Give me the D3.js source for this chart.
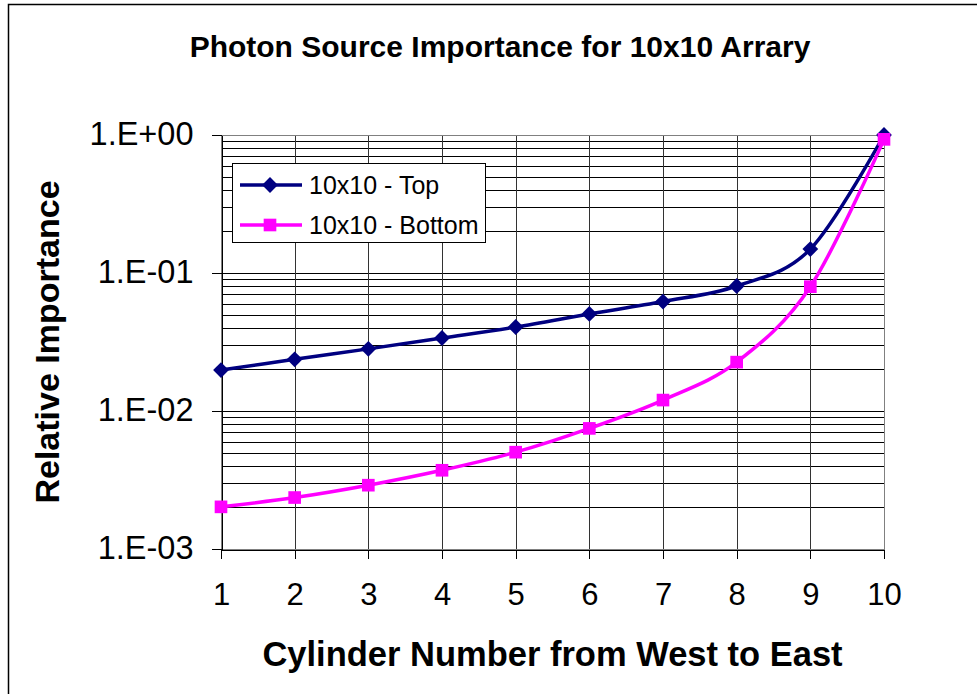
<!DOCTYPE html>
<html lang="en">
<head>
    <meta charset="UTF-8">
    <script src="https://cdn.jsdelivr.net/npm/d3@7"></script>
    <title>Photon Source Importance</title>
    <style>
        body { margin: 0; background: #fff; }
        text { font-family: Arial, "Liberation Sans", sans-serif; }
    </style>
</head>
<body>
    <div class="fig"></div>

    <script>
        /*------------------- Data --------------------*/
        const cylinders = [1, 2, 3, 4, 5, 6, 7, 8, 9, 10];
        const topValues = [0.0198, 0.0237, 0.0282, 0.0338, 0.0406, 0.0505, 0.0621, 0.0805, 0.149, 1.0];
        const bottomValues = [0.00202, 0.00236, 0.0029, 0.00372, 0.00503, 0.00748, 0.0120, 0.0226, 0.0796, 0.93];
        const seriesNames = ["10x10 - Top", "10x10 - Bottom"];
        const yTickValues = [1, 0.1, 0.01, 0.001];
        const yTickLabels = ["1.E+00", "1.E-01", "1.E-02", "1.E-03"];

        /*------------------- Window setting --------------------*/
        const width = 977;
        const height = 694;
        const plot = { left: 221, right: 884, top: 135, bottom: 549 };

        const svg = d3.select(".fig").append("svg")
            .attr("width", width)
            .attr("height", height);

        // outer chart frame (only top & left visible in the picture)
        svg.append("rect")
            .attr("x", 8.5).attr("y", 4.5)
            .attr("width", 1000).attr("height", 1000)
            .attr("fill", "none")
            .attr("stroke", "#000")
            .attr("stroke-width", 1.5);

        // scales
        const xScale = d3.scaleLinear().domain([1, 10]).range([plot.left, plot.right]);
        const yScale = d3.scaleLog().domain([0.001, 1]).range([plot.bottom, plot.top]);

        // gridlines: log minor + major horizontals, one vertical per cylinder
        const grid = svg.append("g").attr("shape-rendering", "crispEdges");
        grid.selectAll(".hgrid")
            .data(yScale.ticks())
            .enter()
            .append("line")
            .attr("x1", plot.left).attr("x2", plot.right)
            .attr("y1", d => Math.round(yScale(d)) + 0.5)
            .attr("y2", d => Math.round(yScale(d)) + 0.5)
            .attr("stroke", "#000");
        grid.selectAll(".vgrid")
            .data(cylinders.slice(1))
            .enter()
            .append("line")
            .attr("x1", d => Math.round(xScale(d)) + 0.5)
            .attr("x2", d => Math.round(xScale(d)) + 0.5)
            .attr("y1", plot.top).attr("y2", plot.bottom)
            .attr("stroke", "#333");
        // plot area border
        grid.append("rect")
            .attr("x", plot.left + 0.5).attr("y", plot.top + 0.5)
            .attr("width", plot.right - plot.left).attr("height", plot.bottom - plot.top)
            .attr("fill", "none")
            .attr("stroke", "#808080");

        // axes
        const yAxis = d3.axisLeft(yScale)
            .tickValues(yTickValues)
            .tickFormat((d, i) => yTickLabels[i])
            .tickSizeInner(10)
            .tickSizeOuter(0)
            .tickPadding(18);
        const yAxisG = svg.append("g")
            .attr("transform", `translate(${plot.left + 0.5},0)`)
            .call(yAxis);
        yAxisG.selectAll("text")
            .attr("font-size", "32.5px")
            .attr("fill", "#000")
            .attr("dy", "0.28em");

        const xAxis = d3.axisBottom(xScale)
            .tickValues(cylinders)
            .tickFormat(d3.format("d"))
            .tickSizeInner(9)
            .tickSizeOuter(0)
            .tickPadding(24);
        const xAxisG = svg.append("g")
            .attr("transform", `translate(0,${plot.bottom + 0.5})`)
            .call(xAxis);
        xAxisG.selectAll("text")
            .attr("font-size", "31px")
            .attr("fill", "#000");

        [yAxisG, xAxisG].forEach(g => {
            g.attr("font-family", null);
            g.selectAll("line, path").attr("stroke", "#000").attr("shape-rendering", "crispEdges");
        });

        // smoothed lines
        const lineGen = values => d3.line()
            .x((d, i) => xScale(cylinders[i]))
            .y(d => yScale(d))
            .curve(d3.curveCatmullRom.alpha(0))(values);

        // diamond = square turned 45 degrees
        const series = [
            { name: seriesNames[0], values: topValues, color: "#000080", size: 125, rotate: 45, width: 3.5 },
            { name: seriesNames[1], values: bottomValues, color: "#FF00FF", size: 160, rotate: 0, width: 3.5 }
        ];

        series.forEach(s => {
            svg.append("path")
                .attr("d", lineGen(s.values))
                .attr("fill", "none")
                .attr("stroke", s.color)
                .attr("stroke-width", s.width);
        });
        series.forEach(s => {
            svg.selectAll(null)
                .data(s.values)
                .enter()
                .append("path")
                .attr("transform", (d, i) => `translate(${xScale(cylinders[i])},${yScale(d)}) rotate(${s.rotate})`)
                .attr("d", d3.symbol().type(d3.symbolSquare).size(s.size))
                .attr("fill", s.color);
        });

        // legend
        const legend = svg.append("g").attr("transform", "translate(232,163)");
        legend.append("rect")
            .attr("x", 0.5).attr("y", 0.5)
            .attr("width", 253).attr("height", 79)
            .attr("fill", "#fff")
            .attr("stroke", "#000");
        series.forEach((s, i) => {
            const row = legend.append("g").attr("transform", `translate(0,${22 + i * 40})`);
            row.append("line")
                .attr("x1", 8).attr("x2", 70)
                .attr("stroke", s.color)
                .attr("stroke-width", s.width);
            row.append("path")
                .attr("transform", `translate(38,0) rotate(${s.rotate})`)
                .attr("d", d3.symbol().type(d3.symbolSquare).size(s.size))
                .attr("fill", s.color);
            row.append("text")
                .attr("x", 77).attr("y", 9)
                .attr("font-size", "25px")
                .text(s.name);
        });

        // titles
        svg.append("text")
            .attr("x", 500).attr("y", 57)
            .attr("text-anchor", "middle")
            .attr("font-size", "30px")
            .attr("font-weight", "bold")
            .text("Photon Source Importance for 10x10 Arrary");

        svg.append("text")
            .attr("x", (plot.left + plot.right) / 2).attr("y", 666)
            .attr("text-anchor", "middle")
            .attr("font-size", "34.5px")
            .attr("font-weight", "bold")
            .text("Cylinder Number from West to East");

        svg.append("text")
            .attr("transform", `translate(59,${(plot.top + plot.bottom) / 2}) rotate(-90)`)
            .attr("text-anchor", "middle")
            .attr("font-size", "34px")
            .attr("font-weight", "bold")
            .text("Relative Importance");
    </script>
</body>
</html>
